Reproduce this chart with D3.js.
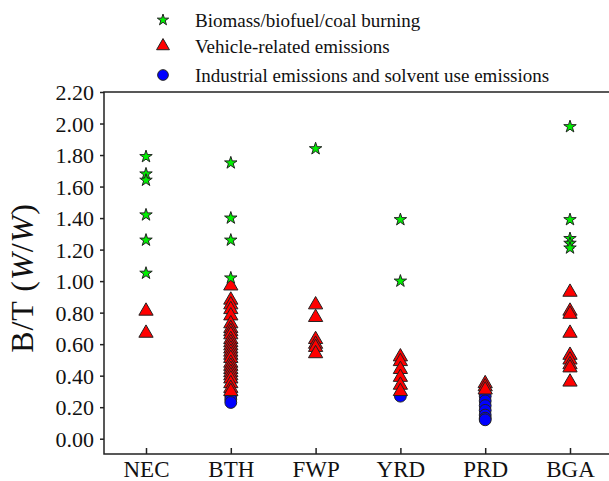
<!DOCTYPE html>
<html>
<head>
<meta charset="utf-8">
<script src="https://cdn.jsdelivr.net/npm/d3@7"></script>
<style>
  body { margin: 0; background: #fff; }
  text { font-family: "Liberation Serif", "Times New Roman", serif; fill: #111; }
</style>
</head>
<body>
<div id="chart"></div>
<script>

  ///////////////////////////////// Data /////////////////////////////////

  var regions = ["NEC", "BTH", "FWP", "YRD", "PRD", "BGA"]

  // B/T ratios per region, one list per source type
  var biomass = [
    [1.79, 1.68, 1.64, 1.42, 1.26, 1.05],
    [1.75, 1.40, 1.26, 1.02],
    [1.84],
    [1.39, 1.00],
    [],
    [1.98, 1.39, 1.27, 1.24, 1.21]
  ]
  var vehicle = [
    [0.81, 0.67],
    [0.97, 0.88, 0.85, 0.82, 0.78, 0.73, 0.70, 0.68, 0.66, 0.63, 0.61, 0.59, 0.57,
     0.55, 0.53, 0.51, 0.48, 0.46, 0.44, 0.42, 0.40, 0.38, 0.35, 0.32, 0.30],
    [0.85, 0.77, 0.63, 0.60, 0.58, 0.54],
    [0.52, 0.49, 0.44, 0.39, 0.34, 0.30],
    [0.35, 0.33, 0.31],
    [0.93, 0.81, 0.79, 0.67, 0.53, 0.50, 0.47, 0.45, 0.36]
  ]
  var industrial = [
    [],
    [0.27, 0.25, 0.23],
    [],
    [0.27],
    [0.27, 0.24, 0.21, 0.18, 0.15, 0.13, 0.12],
    []
  ]
  var yTicks = [0, 0.2, 0.4, 0.6, 0.8, 1.0, 1.2, 1.4, 1.6, 1.8, 2.0, 2.2]
  var legendLabels = ["Biomass/biofuel/coal burning", "Vehicle-related emissions",
                      "Industrial emissions and solvent use emissions"]

  ///////////////////////////////// Setup /////////////////////////////////

  var W = 609, H = 481
  var plotLeft = 104, plotRight = 613, plotTop = 92, plotBottom = 454

  var svg = d3.select("#chart").append("svg")
    .attr("width", W).attr("height", H)

  var x = d3.scalePoint().domain(regions).range([146, 570])
  var y = d3.scaleLinear().domain([-0.097, 2.2]).range([plotBottom, plotTop])

  var styles = [
    { type: d3.symbolStar, size: 48, fill: "#00f000" },
    { type: d3.symbolTriangle, size: 88, fill: "#ff0000" },
    { type: d3.symbolCircle, size: 110, fill: "#0000ff" }
  ]

  function flatten(arr) {
    var out = []
    arr.forEach(function(vals, i) {
      vals.forEach(function(v) { out.push({ region: regions[i], value: v }) })
    })
    return out
  }

  ///////////////////////////////// Axes /////////////////////////////////

  var yAxis = svg.append("g")
    .attr("transform", "translate(" + plotLeft + ",0)")
    .call(d3.axisLeft(y).tickValues(yTicks).tickFormat(d3.format(".2f")).tickSize(4).tickPadding(6))
  yAxis.select(".domain").remove()
  yAxis.selectAll("text").style("font-size", "22px").attr("dy", "0.34em")

  var xAxis = svg.append("g")
    .attr("transform", "translate(0," + plotBottom + ")")
    .call(d3.axisBottom(x).tickSize(-6).tickPadding(6))
  xAxis.select(".domain").remove()
  xAxis.selectAll("text").style("font-size", "23px").attr("dy", "0.72em")

  svg.selectAll(".tick line").attr("stroke", "#222").attr("stroke-width", 1.5)

  // frame
  svg.append("path")
    .attr("d", "M" + plotRight + "," + plotTop + "H" + plotLeft + "V" + plotBottom + "H" + plotRight)
    .attr("fill", "none").attr("stroke", "#222").attr("stroke-width", 1.5)

  // y title
  var title = svg.append("text")
    .attr("transform", "translate(33,278) rotate(-90)")
    .attr("text-anchor", "middle")
    .style("font-size", "32px")
    .style("letter-spacing", "1px")
  title.append("tspan").text("B/T (")
  title.append("tspan").style("font-style", "italic").text("W")
  title.append("tspan").text("/")
  title.append("tspan").style("font-style", "italic").text("W")
  title.append("tspan").text(")")

  ///////////////////////////////// Points /////////////////////////////////

  var layers = [
    { data: flatten(industrial), s: styles[2] },
    { data: flatten(vehicle), s: styles[1] },
    { data: flatten(biomass), s: styles[0] }
  ]

  layers.forEach(function(l) {
    svg.append("g").selectAll("path")
      .data(l.data).enter().append("path")
      .attr("d", d3.symbol().type(l.s.type).size(l.s.size))
      .attr("transform", function(d) { return "translate(" + x(d.region) + "," + y(d.value) + ")" })
      .attr("fill", l.s.fill)
      .attr("stroke", "#222").attr("stroke-width", 1)
  })

  ///////////////////////////////// Legend /////////////////////////////////

  var legendY = [20, 46, 75]
  var legend = svg.append("g")
  legendLabels.forEach(function(lab, i) {
    var sizes = [40, 72, 90]
    legend.append("path")
      .attr("d", d3.symbol().type(styles[i].type).size(sizes[i]))
      .attr("transform", "translate(163," + legendY[i] + ")")
      .attr("fill", styles[i].fill)
      .attr("stroke", "#222").attr("stroke-width", 1)
    legend.append("text")
      .attr("x", 195).attr("y", legendY[i]).attr("dy", "0.35em")
      .style("font-size", "19px")
      .text(lab)
  })

</script>
</body>
</html>
